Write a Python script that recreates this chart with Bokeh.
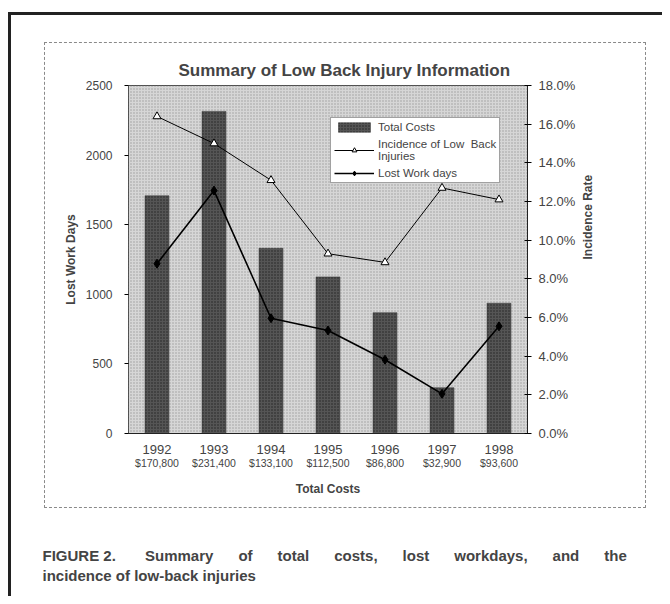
import math
from bokeh.plotting import figure
from bokeh.models import (FactorRange, Range1d, LinearAxis, CategoricalAxis, Legend, LegendItem,
                          PrintfTickFormatter, FixedTicker, Title, BoxAnnotation, ColumnDataSource)
from bokeh.embed import file_html
from bokeh.resources import INLINE

years = ["1992", "1993", "1994", "1995", "1996", "1997", "1998"]
cost_labels = ["$170,800", "$231,400", "$133,100", "$112,500", "$86,800", "$32,900", "$93,600"]
total_costs = [170800, 231400, 133100, 112500, 86800, 32900, 93600]
lost_work_days = [1220, 1745, 828, 740, 530, 285, 770]
incidence_pct = [16.4, 15.0, 13.1, 9.3, 8.85, 12.7, 12.1]
cost_scale = 100  # bars drawn as cost / 100 on the left axis
left_ticks = [0, 500, 1000, 1500, 2000, 2500]
right_ticks = [0, 2, 4, 6, 8, 10, 12, 14, 16, 18]

caption_line1 = ["FIGURE 2.", "Summary", "of", "total", "costs,", "lost", "workdays,", "and", "the"]
caption_line2 = "incidence of low-back injuries"

FONT = "Liberation Sans"
W, H = 662, 596
FL, FR, FT, FB = 128, 527, 85, 433  # plot frame on the canvas

src = ColumnDataSource(dict(
    year=years,
    cost=cost_labels,
    bar=[c / cost_scale for c in total_costs],
    lost=lost_work_days,
    inc=incidence_pct,
))

frame_css = (
    ":host { position: relative; }"
    ":host::before { content: ''; position: absolute; left: 8px; top: 12px;"
    " width: %dpx; height: %dpx; border-left: 3px solid #222; border-top: 3px solid #222;"
    " box-sizing: border-box; pointer-events: none; z-index: 5; }"
    ":host::after { content: ''; position: absolute; left: 44px; top: 42px;"
    " width: 602px; height: 466px; border: 1px dashed #8a8a8a;"
    " box-sizing: border-box; pointer-events: none; z-index: 5; }"
) % (W - 8, H - 12)

p = figure(width=W, height=H, output_backend="svg", toolbar_location=None,
           x_range=FactorRange(*years, range_padding=0),
           y_range=Range1d(0, 2500),
           min_border_left=FL, min_border_right=W - FR,
           min_border_top=FT, min_border_bottom=H - FB,
           stylesheets=[frame_css])
p.extra_y_ranges = {"pct": Range1d(0, 18)}
p.extra_x_ranges = {"cost": FactorRange(*cost_labels, range_padding=0)}

p.background_fill_color = "#cdcdcd"
p.border_fill_color = "white"
p.outline_line_color = "#222222"
p.grid.visible = False

bg = BoxAnnotation(fill_color="#d6d6d6", fill_alpha=1, line_alpha=0,
                   hatch_pattern="dot", hatch_color="#8f8f8f", hatch_scale=3, hatch_alpha=0.8,
                   level="underlay")
p.add_layout(bg)

bars = p.vbar(x="year", top="bar", width=0.42, source=src,
              fill_color="#555555", line_color="#333333", line_width=0.5,
              hatch_pattern="dot", hatch_color="#222222", hatch_scale=3)

inc_line = p.line(x="year", y="inc", source=src, y_range_name="pct",
                  line_color="black", line_width=1)
inc_pts = p.scatter(x="year", y="inc", source=src, y_range_name="pct",
                    marker="triangle", size=8, fill_color="white", line_color="black")
lost_line = p.line(x="year", y="lost", source=src, line_color="black", line_width=1.6)
lost_pts = p.scatter(x="year", y="lost", source=src, marker="diamond", size=9,
                     fill_color="black", line_color="black")

# left axis
ax = p.yaxis[0]
ax.ticker = FixedTicker(ticks=left_ticks)
ax.axis_label = "Lost Work Days"
ax.axis_label_text_font = FONT
ax.axis_label_text_font_style = "bold"
ax.axis_label_text_font_size = "12px"
ax.axis_label_standoff = 5
ax.major_label_text_font = FONT
ax.major_label_text_font_size = "12px"
ax.major_label_standoff = 12
ax.major_tick_out = 4
ax.major_tick_in = 0
ax.minor_tick_out = 0
ax.minor_tick_in = 0
ax.axis_line_color = None

# right axis
rax = LinearAxis(y_range_name="pct", ticker=FixedTicker(ticks=right_ticks),
                 formatter=PrintfTickFormatter(format="%.1f%%"))
rax.axis_label = "Incidence Rate"
rax.axis_label_text_font = FONT
rax.axis_label_text_font_style = "bold"
rax.axis_label_text_font_size = "12px"
rax.axis_label_standoff = 10
rax.axis_label_text_align = "center"
rax.major_label_text_font = FONT
rax.major_label_text_font_size = "13px"
rax.major_label_standoff = 7
rax.major_tick_out = 4
rax.major_tick_in = 3
rax.minor_tick_out = 0
rax.minor_tick_in = 0
rax.axis_line_color = "#222222"
try:
    rax.axis_label_orientation = math.pi / 2
except Exception:
    pass
p.add_layout(rax, "right")

# x axis: years
xax = p.xaxis[0]
xax.major_label_text_font = FONT
xax.major_label_text_font_size = "13px"
xax.major_label_standoff = 11
xax.major_tick_out = 0
xax.major_tick_in = 0
xax.axis_line_color = "#222222"

# second x axis: costs
cax = CategoricalAxis(x_range_name="cost")
cax.major_label_text_font = FONT
cax.major_label_text_font_size = "10.5px"
cax.major_label_standoff = 0
cax.major_tick_out = 0
cax.major_tick_in = 0
cax.axis_line_color = None
cax.axis_label = "Total Costs"
cax.axis_label_text_font = FONT
cax.axis_label_text_font_style = "bold"
cax.axis_label_text_font_size = "12px"
cax.axis_label_standoff = 10
p.add_layout(cax, "below")

legend = Legend(items=[
    LegendItem(label="Total Costs", renderers=[bars]),
    LegendItem(label="Incidence of Low  Back\nInjuries", renderers=[inc_line, inc_pts]),
    LegendItem(label="Lost Work days", renderers=[lost_line, lost_pts]),
], location=(202, 250))
legend.label_text_font = FONT
legend.label_text_font_size = "11.5px"
legend.border_line_color = "#444444"
legend.background_fill_color = "white"
legend.background_fill_alpha = 1
legend.glyph_width = 40
legend.glyph_height = 12
legend.spacing = 5
legend.padding = 3
legend.margin = 0
legend.label_standoff = 4
p.add_layout(legend)

# title
p.title.text = "Summary of Low Back Injury Information"
p.title.text_font = FONT
p.title.text_font_style = "bold"
p.title.text_font_size = "17px"
p.title.align = "left"
p.title.offset = 50
p.title.standoff = 12

# caption: a spacer, then the two lines (first line spread like justified text)
NB = "\u00a0"
spacer = Title(text=" ", text_font=FONT, text_font_size="10px", standoff=33, align="left")
line1_text = caption_line1[0] + " " + NB * 6 + (" " + NB * 5).join(caption_line1[1:])
cap1 = Title(text=line1_text,
             text_font=FONT, text_font_style="bold", text_font_size="15px",
             align="left", offset=-86, standoff=0)
cap2 = Title(text=caption_line2,
             text_font=FONT, text_font_style="bold", text_font_size="15px",
             align="left", offset=-86, standoff=2)
p.add_layout(spacer, "below")
p.add_layout(cap1, "below")
p.add_layout(cap2, "below")

open("out.html", "w").write(file_html(p, INLINE))
